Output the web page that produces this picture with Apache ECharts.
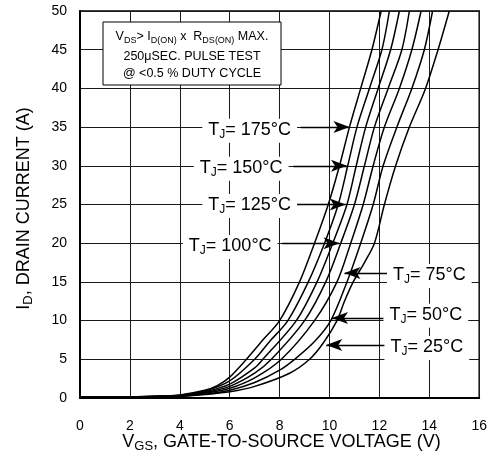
<!DOCTYPE html>
<html>
<head>
<meta charset="utf-8">
<script src="https://cdn.jsdelivr.net/npm/echarts@6/dist/echarts.min.js"></script>
<style>
  html, body { margin: 0; padding: 0; background: #fff; }
  #chart { width: 490px; height: 456px; }
</style>
</head>
<body>
<div id="chart"></div>
<script>
// Transfer characteristics: drain current vs gate-to-source voltage at several junction temperatures.
const xTicks = [0, 2, 4, 6, 8, 10, 12, 14, 16];
const yTicks = [0, 5, 10, 15, 20, 25, 30, 35, 40, 45, 50];

const tempLabels = ['175', '150', '125', '100', '75', '50', '25'];

const vgs175 = [0, 2, 3, 4, 5, 5.5, 6, 6.67, 7.3, 8.0, 8.8, 9.4, 9.95, 10.4, 10.8, 11.25, 11.7, 12.07];
const id175  = [0.15, 0.15, 0.2, 0.4, 1.0, 1.6, 2.7, 5, 7.4, 10, 15, 20, 25, 30, 35, 40, 45, 50];

const vgs150 = [0, 2, 3, 4, 5, 6, 7.0, 7.6, 8.33, 9.15, 9.8, 10.35, 10.73, 11.1, 11.6, 12.1, 12.4];
const id150  = [0.15, 0.15, 0.2, 0.35, 0.9, 2.2, 5, 7.3, 10, 15, 20, 25, 30, 35, 40, 45, 50];

const vgs125 = [0, 2, 3, 4, 5, 6, 7, 7.33, 8.67, 9.5, 10.13, 10.7, 11.07, 11.45, 11.95, 12.45, 12.8];
const id125  = [0.15, 0.15, 0.2, 0.3, 0.8, 1.8, 3.9, 5, 10, 15, 20, 25, 30, 35, 40, 45, 50];

const vgs100 = [0, 2, 3, 4, 5, 6, 7, 7.67, 9.0, 9.85, 10.45, 11.0, 11.4, 11.8, 12.35, 12.9, 13.2];
const id100  = [0.15, 0.15, 0.2, 0.3, 0.7, 1.5, 3.2, 5, 10, 15, 20, 25, 30, 35, 40, 45, 50];

const vgs75 = [0, 2, 3, 4, 5, 6, 7, 8.07, 9.4, 10.3, 10.85, 11.35, 11.75, 12.2, 12.8, 13.3, 13.67];
const id75  = [0.15, 0.15, 0.2, 0.25, 0.6, 1.25, 2.6, 5, 10, 15, 20, 25, 30, 35, 40, 45, 50];

const vgs50 = [0, 2, 3, 4, 5, 6, 7, 8, 8.6, 9.4, 10.05, 10.7, 11.25, 11.75, 12.15, 12.7, 13.3, 13.8, 14.13];
const id50  = [0.15, 0.15, 0.2, 0.25, 0.5, 1.0, 2.0, 3.6, 5, 7.3, 10, 15, 20, 25, 30, 35, 40, 45, 50];

const vgs25 = [0, 2, 3, 4, 5, 6, 7, 8.4, 9.2, 9.75, 10.3, 10.6, 10.95, 11.4, 11.8, 12.2, 12.65, 13.2, 13.85, 14.35, 14.8];
const id25  = [0.15, 0.15, 0.2, 0.2, 0.45, 0.8, 1.5, 3.2, 5, 7.1, 10, 12.5, 15, 17.5, 20, 25, 30, 35, 40, 45, 50];

const curves = [
  [vgs175, id175], [vgs150, id150], [vgs125, id125], [vgs100, id100],
  [vgs75, id75], [vgs50, id50], [vgs25, id25]
];

// Where each temperature label sits and where its arrow points (axis units)
const tempNotes = [
  { text: '175', at: [6.8, 34.9],  from: [8.85, 35],   to: [10.8, 35] },
  { text: '150', at: [6.46, 30.0], from: [8.55, 30],   to: [10.7, 30] },
  { text: '125', at: [6.8, 25.2],  from: [8.6, 25],    to: [10.65, 25] },
  { text: '100', at: [6.02, 19.9], from: [8.1, 20],    to: [10.4, 20] },
  { text: '75',  at: [14.0, 16.15], from: [12.45, 16.15], to: [10.6, 16.15] },
  { text: '50',  at: [13.86, 11.0], from: [12.2, 10.35], to: [10.1, 10.35] },
  { text: '25',  at: [13.9, 6.85],  from: [12.35, 6.85], to: [9.87, 6.85] }
];

const FONT = 'Liberation Sans, Arial, Helvetica, sans-serif';
const GRID = { left: 80, right: 9, top: 11, bottom: 58 };

const chart = echarts.init(document.getElementById('chart'), null, { renderer: 'canvas' });

const curveSeries = curves.map((c, i) => ({
  type: 'line',
  name: tempLabels[i],
  data: c[0].map((v, k) => [v, c[1][k]]),
  symbol: 'none',
  showSymbol: false,
  smooth: 0.3,
  clip: true,
  silent: true,
  lineStyle: { color: '#000', width: 1.5 },
  z: 3
}));

const arrowSeries = {
  type: 'line',
  data: [],
  silent: true,
  z: 6,
  markLine: {
    silent: true,
    animation: false,
    symbol: ['none', 'arrow'],
    symbolSize: [9, 16],
    label: { show: false },
    emphasis: { disabled: true },
    lineStyle: { type: 'solid', color: '#000', width: 1.3 },
    data: tempNotes.map(n => [{ coord: n.from }, { coord: n.to }])
  }
};

chart.setOption({
  animation: false,
  backgroundColor: '#fff',
  grid: {
    left: GRID.left, right: GRID.right, top: GRID.top, bottom: GRID.bottom,
    show: true, borderColor: '#000', borderWidth: 1.5, backgroundColor: 'transparent'
  },
  xAxis: {
    type: 'value', min: xTicks[0], max: xTicks[xTicks.length - 1], interval: 2,
    axisLine: { show: true, onZero: false, lineStyle: { color: '#000', width: 2 } },
    axisTick: { show: false },
    axisLabel: { margin: 21, fontSize: 14, color: '#000', fontFamily: FONT },
    splitLine: { show: true, lineStyle: { color: '#1a1a1a', width: 1 } }
  },
  yAxis: {
    type: 'value', min: yTicks[0], max: yTicks[yTicks.length - 1], interval: 5,
    axisLine: { show: true, onZero: false, lineStyle: { color: '#000', width: 2 } },
    axisTick: { show: false },
    axisLabel: { margin: 13, fontSize: 14, color: '#000', fontFamily: FONT },
    splitLine: { show: true, lineStyle: { color: '#1a1a1a', width: 1 } }
  },
  series: curveSeries.concat([arrowSeries])
});

const toPx = p => chart.convertToPixel({ gridIndex: 0 }, p);

const tjRich = {
  m: { fontSize: 18, fontFamily: FONT, fill: '#000', verticalAlign: 'top', lineHeight: 20 },
  s: { fontSize: 12, fontFamily: FONT, fill: '#000', verticalAlign: 'bottom', lineHeight: 12, padding: [14, 0, 0, 0] }
};

const graphics = tempNotes.map(n => {
  const p = toPx(n.at);
  return {
    type: 'text',
    x: p[0], y: p[1] + 3,
    z: 100,
    style: {
      text: '{m|T}{s|J}{m|= ' + n.text + '°C}',
      rich: tjRich,
      fill: '#000',
      align: 'center',
      verticalAlign: 'middle',
      backgroundColor: '#fff',
      padding: [2, 6, 2, 6]
    }
  };
});

// Test-condition box in the upper left of the plot
const boxLeft = GRID.left + 23, boxTop = GRID.top + 11, boxW = 178, boxH = 63;
const boxCx = boxLeft + boxW / 2;
graphics.push({
  type: 'rect', z: 100,
  shape: { x: boxLeft, y: boxTop, width: boxW, height: boxH },
  style: { fill: '#fff', stroke: '#000', lineWidth: 1 }
});
graphics.push({
  type: 'text', z: 101, x: boxCx, y: boxTop + 16,
  style: {
    text: '{a|V}{s|DS}{a|> I}{s|D(ON)}{a| x  R}{s|DS(ON)}{a| MAX.}',
    rich: {
      a: { fontSize: 12.5, fontFamily: FONT, fill: '#000', verticalAlign: 'top', lineHeight: 15 },
      s: { fontSize: 9, fontFamily: FONT, fill: '#000', verticalAlign: 'bottom', lineHeight: 9, padding: [9, 0, 0, 0] }
    },
    align: 'center', verticalAlign: 'middle'
  }
});
graphics.push({
  type: 'text', z: 101, x: boxCx, y: boxTop + 34.5,
  style: { text: '250μSEC. PULSE TEST', fontSize: 12.5, fontFamily: FONT, fill: '#000', align: 'center', verticalAlign: 'middle' }
});
graphics.push({
  type: 'text', z: 101, x: boxCx, y: boxTop + 52,
  style: { text: '@ <0.5 % DUTY CYCLE', fontSize: 12.5, fontFamily: FONT, fill: '#000', align: 'center', verticalAlign: 'middle' }
});

// Axis titles
const titleRich = {
  a: { fontSize: 18, fontFamily: FONT, fill: '#000', verticalAlign: 'top', lineHeight: 20 },
  b: { fontSize: 13, fontFamily: FONT, fill: '#000', verticalAlign: 'bottom', lineHeight: 13, padding: [11, 0, 0, 0] }
};
const plotCx = GRID.left + (490 - GRID.left - GRID.right) / 2;
const plotCy = GRID.top + (456 - GRID.top - GRID.bottom) / 2;
graphics.push({
  type: 'text', z: 101, x: plotCx + 1, y: 443,
  style: {
    text: '{a|V}{b|GS}{a|, GATE-TO-SOURCE VOLTAGE (V)}',
    rich: titleRich, align: 'center', verticalAlign: 'middle'
  }
});
graphics.push({
  type: 'text', z: 101, x: 25, y: plotCy + 4, rotation: Math.PI / 2,
  style: {
    text: '{a|I}{b|D}{a|, DRAIN CURRENT (A)}',
    rich: titleRich, align: 'center', verticalAlign: 'middle'
  }
});

chart.setOption({ graphic: graphics });
</script>
</body>
</html>
